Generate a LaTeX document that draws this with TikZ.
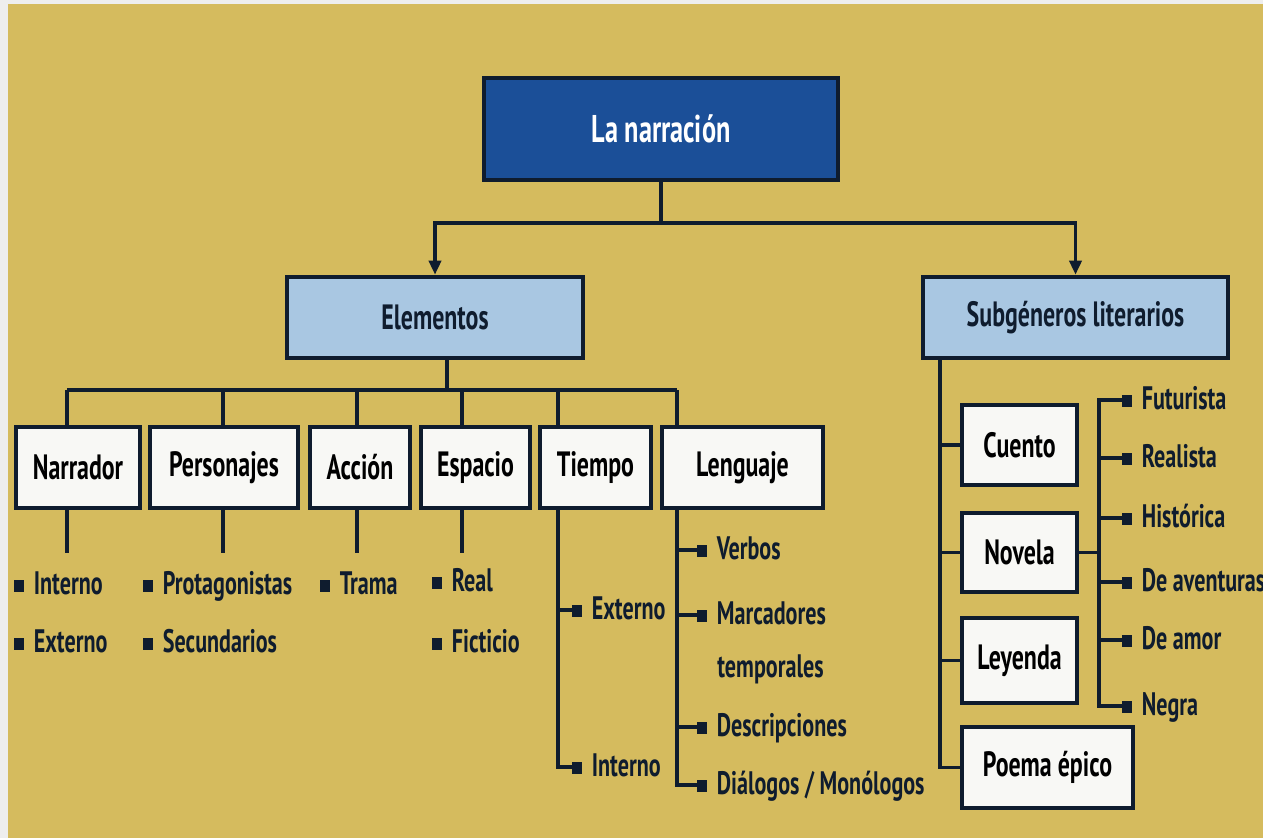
\documentclass[tikz,border=0pt]{standalone}
\usepackage{fontspec}
\setmainfont{PT Sans}[FakeStretch=0.68]
\usetikzlibrary{arrows.meta}
\definecolor{fondo}{HTML}{D5BB5E}
\definecolor{marco}{HTML}{EEEEEE}
\definecolor{azul}{HTML}{1B4F98}
\definecolor{celeste}{HTML}{A9C7E2}
\definecolor{tinta}{HTML}{0F1C2E}
\definecolor{caja}{HTML}{F8F8F5}
\newcommand{\blt}{\rule[0.08em]{0.2cm}{0.24cm}\hspace{0.19cm}}

\begin{document}
\begin{tikzpicture}[x=0.02cm,y=-0.02cm,
            tit/.style={draw=tinta,line width=2.6pt,fill=azul,text=white,inner sep=0pt,
                font=\bfseries\fontsize{22}{26}\selectfont},
            ramo/.style={draw=tinta,line width=2.6pt,fill=celeste,text=tinta,inner sep=0pt,
                minimum height=1.62cm,font=\bfseries\fontsize{20}{24}\selectfont},
            caja/.style={draw=tinta,line width=2.6pt,fill=caja,text=black,inner sep=0pt,
                minimum height=1.62cm,font=\bfseries\fontsize{20}{24}\selectfont},
            hoja/.style={anchor=west,inner sep=0pt,text=tinta,text height=13pt,text depth=2pt,
                font=\bfseries\fontsize{18.5}{22}\selectfont},
            con/.style={draw=tinta,line width=2.2pt},
            fle/.style={con,-{Triangle[width=0.24cm,length=0.28cm]}}]
            \useasboundingbox (0,0) rectangle (1263,838);
            \fill[marco] (0,0) rectangle (1263,838);
            \fill[fondo] (8,4) rectangle (1263,838);

            \node[tit, minimum width=7.08cm, minimum height=2.04cm] (top) at (661,129) {La narración};
            \node[ramo, minimum width=5.92cm] (elem) at (435,317.5) {Elementos};
            \node[ramo, minimum width=6.1cm] (subg) at (1075.5,317.5) {Subgéneros literarios};

            \node[caja, minimum width=2.48cm] (narr) at (78,467.5) {Narrador};
            \node[caja, minimum width=2.96cm] (pers) at (224,467.5) {Personajes};
            \node[caja, minimum width=2.0cm] (acc) at (360,467.5) {Acción};
            \node[caja, minimum width=2.18cm] (esp) at (475.5,467.5) {Espacio};
            \node[caja, minimum width=2.22cm] (tiem) at (595.5,467.5) {Tiempo};
            \node[caja, minimum width=3.22cm] (leng) at (742.5,467.5) {Lenguaje};

            \node[caja, minimum width=2.3cm, minimum height=1.6cm] (cuen) at (1019.5,445) {Cuento};
            \node[caja, minimum width=2.3cm, minimum height=1.58cm] (nove) at (1019.5,552.5) {Novela};
            \node[caja, minimum width=2.3cm, minimum height=1.7cm] (leye) at (1019.5,660.5) {Leyenda};
            \node[caja, minimum width=3.42cm] (poem) at (1047.5,767.5) {Poema épico};

            \node[hoja] (int1) at (14,585) {\blt Interno};
            \node[hoja] (ext1) at (14,643) {\blt Externo};
            \node[hoja] (pro) at (143,585) {\blt Protagonistas};
            \node[hoja] (sec) at (143,643) {\blt Secundarios};
            \node[hoja] (tra) at (320,585) {\blt Trama};
            \node[hoja] (rea1) at (432,582) {\blt Real};
            \node[hoja] (fic) at (432,643) {\blt Ficticio};
            \node[hoja] (ext2) at (572,610) {\blt Externo};
            \node[hoja] (int2) at (572,767) {\blt Interno};
            \node[hoja] (ver) at (697,550) {\blt Verbos};
            \node[hoja] (mar) at (697,615) {\blt Marcadores};
            \node[hoja] (mar2) at (717,668) {temporales};
            \node[hoja] (des) at (697,727) {\blt Descripciones};
            \node[hoja] (dia) at (697,785) {\blt Diálogos / Monólogos};

            \node[hoja] (fut) at (1122,400) {\blt Futurista};
            \node[hoja] (real) at (1122,458) {\blt Realista};
            \node[hoja] (his) at (1122,518) {\blt Histórica};
            \node[hoja] (ave) at (1122,582) {\blt De aventuras};
            \node[hoja] (amo) at (1122,640) {\blt De amor};
            \node[hoja] (neg) at (1122,706) {\blt Negra};

            \coordinate (j1) at (661,223);
            \draw[con] (top.south) -- (j1);
            \draw[fle] (j1) -| (elem.north);
            \draw[fle] (j1) -| (subg.north);

            \coordinate (b0) at (447,390);
            \coordinate (b1) at (67,390);
            \coordinate (b2) at (223,390);
            \coordinate (b3) at (357,390);
            \coordinate (b4) at (462,390);
            \coordinate (b5) at (558,390);
            \coordinate (b6) at (677,390);
            \draw[con] (b0 |- elem.south) -- (b0);
            \draw[con] (b1) -- (b6);
            \foreach \b/\n in {b1/narr,b2/pers,b3/acc,b4/esp,b5/tiem,b6/leng}
                \draw[con] (\b) -- (\b |- \n.north);

            \coordinate (s1) at (67,553);
            \coordinate (s2) at (223,553);
            \coordinate (s3) at (357,553);
            \coordinate (s4) at (462,553);
            \draw[con] (b1 |- narr.south) -- (s1);
            \draw[con] (b2 |- pers.south) -- (s2);
            \draw[con] (b3 |- acc.south) -- (s3);
            \draw[con] (b4 |- esp.south) -- (s4);

            \draw[con] (b5 |- tiem.south) |- (int2.west);
            \draw[con] (b5 |- ext2.west) -- (ext2.west);

            \draw[con] (b6 |- leng.south) |- (dia.west);
            \foreach \n in {ver,mar,des}
                \draw[con] (b6 |- \n.west) -- (\n.west);

            \coordinate (sv) at (940,0);
            \draw[con] (sv |- subg.south) |- (poem.west);
            \foreach \n in {cuen,nove,leye}
                \draw[con] (sv |- \n.west) -- (\n.west);

            \coordinate (nv) at (1099,0);
            \draw[con] (nove.east) -- (nv |- nove.east);
            \draw[con] (fut.west) -| (nv |- neg.west) -- (neg.west);
            \foreach \n in {real,his,ave,amo}
                \draw[con] (nv |- \n.west) -- (\n.west);
        \end{tikzpicture}
\end{document}
